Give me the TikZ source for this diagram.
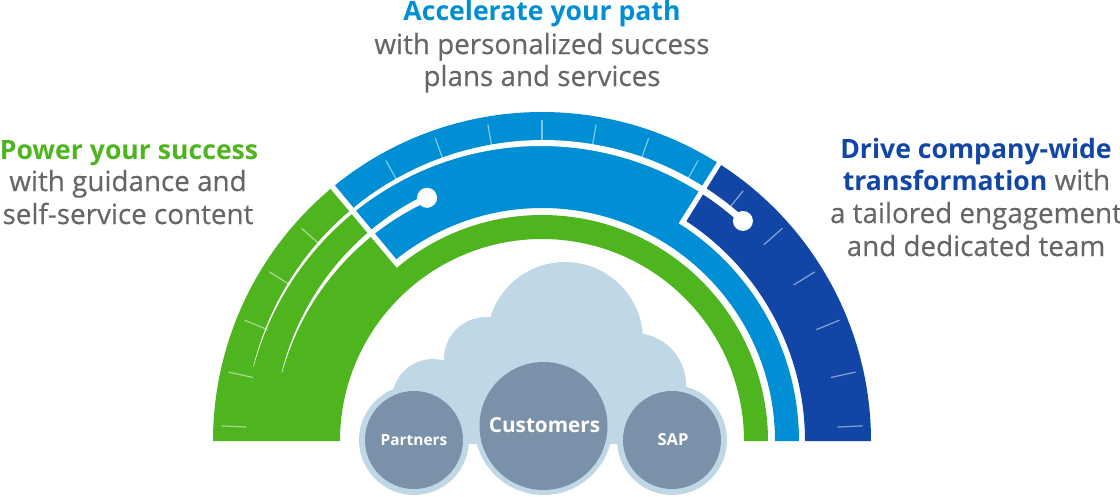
\documentclass[tikz,border=0pt]{standalone}
\usepackage{fontspec}
\setmainfont{Open Sans}
\newfontface\bodyface[FakeBold=0.4]{Open Sans}
\definecolor{cgreen}{HTML}{4FB51F}
\definecolor{cblue}{HTML}{008FD5}
\definecolor{cdark}{HTML}{1146A6}
\definecolor{cgrey}{HTML}{666666}
\definecolor{ccloud}{HTML}{C0D7E5}
\definecolor{cslate}{HTML}{7B91A9}
\tikzset{
  declare function={wa(\t)=6.5*(1-((\t-47.6)/118)^2)+0.3; wb(\t)=0.4+6.5*(165.3-\t)/50;},
  tick/.style={draw=white,draw opacity=0.5,line width=1.2pt},
  bodyline/.style={font=\bodyface\fontsize{27.8}{32}\selectfont,text=cgrey,inner sep=0pt,anchor=base},
  headline/.style={font=\bfseries\fontsize{26.6}{32}\selectfont,inner sep=0pt,anchor=base},
  circlelabel/.style={text=white,inner sep=0pt,anchor=base},
}
\begin{document}
\begin{tikzpicture}[x=1pt,y=1pt]
\useasboundingbox (0,0) rectangle (1120,-496);
\begin{scope}[shift={(542,-441)}]
  \fill[cgreen] (180:329pt) arc[start angle=180,end angle=130,radius=329pt] -- (130:226pt)
     arc[start angle=130,end angle=0,radius=226pt] -- (0:202pt)
     arc[start angle=0,end angle=180,radius=202pt] -- cycle;
  \fill[cblue] (129:329pt) arc[start angle=129,end angle=57.9,radius=329pt] -- (57.9:257pt)
     arc[start angle=57.9,end angle=0,radius=257pt] -- (0:233pt)
     arc[start angle=0,end angle=128.7,radius=233pt] -- cycle;
  \fill[cdark] (57:329pt) arc[start angle=57,end angle=0,radius=329pt] -- (0:263pt)
     arc[start angle=0,end angle=56.7,radius=263pt] -- cycle;
  \foreach \a in {2.7,12.4,22.1,31.8,41.5,51.2,60.9,70.6,80.3,90,99.7,109.4,119.1,138.5,148.2,157.9,167.6,177.3}
    \draw[tick] (\a:296pt) -- (\a:321pt);
  \fill[white] plot[domain=165.6:47.6,samples=80] (\x:{298+0.5*wa(\x)})
     -- plot[domain=47.6:165.6,samples=80] (\x:{298-0.5*wa(\x)}) -- cycle;
  \fill[white] plot[domain=165.3:115.3,samples=50] (\x:{269+0.5*wb(\x)})
     -- plot[domain=115.3:165.3,samples=50] (\x:{269-0.5*wb(\x)}) -- cycle;
  \fill[white] (47.6:298pt) circle[radius=10pt];
  \fill[white] (115.3:269pt) circle[radius=10pt];
\end{scope}
% cloud
\fill[ccloud] (565,-340) circle[radius=78];
\fill[ccloud] (486,-359) circle[radius=42];
\fill[ccloud] (433,-400) circle[radius=41];
\fill[ccloud] (634,-385) circle[radius=52];
\fill[ccloud] (433,-444) rectangle (680,-385);
\fill[ccloud] (486,-400) rectangle (640,-340);
% discs
\fill[ccloud] (414,-440) circle[radius=55];
\fill[ccloud] (543.5,-426) circle[radius=69];
\fill[ccloud] (672,-440) circle[radius=55];
\node[fill=cslate,circle,minimum size=98pt,inner sep=0pt] (partnersdisc) at (414,-440) {};
\node[fill=cslate,circle,minimum size=128pt,inner sep=0pt] (customersdisc) at (543.5,-426) {};
\node[fill=cslate,circle,minimum size=98pt,inner sep=0pt] (sapdisc) at (672,-440) {};
\node[circlelabel,font=\bfseries\fontsize{15.4}{18}\selectfont] (partners) at (414,-445) {Partners};
\node[circlelabel,font=\bfseries\fontsize{20.7}{24}\selectfont] (customers) at (544.5,-432) {Customers};
\node[circlelabel,font=\bfseries\fontsize{16.5}{18}\selectfont] (sap) at (673,-445) {SAP};
% texts
\node[headline,text=cblue] (top1) at (542,-20) {Accelerate your path};
\node[bodyline] (top2) at (542,-54) {with personalized success};
\node[bodyline] (top3) at (542,-86) {plans and services};
\node[headline,text=cgreen] (left1) at (129,-159) {Power your success};
\node[bodyline] (left2) at (128,-191) {with guidance and};
\node[bodyline] (left3) at (128,-224) {self-service content};
\node[headline,text=cdark] (right1) at (976,-158) {Drive company-wide};
\node[bodyline] (right2) at (976.5,-190) {\textcolor{cdark}{\normalfont\bfseries\fontsize{26.6}{32}\selectfont transformation} with};
\node[bodyline] (right3) at (976,-223) {a tailored engagement};
\node[bodyline] (right4) at (976,-256) {and dedicated team};
\end{tikzpicture}
\end{document}
